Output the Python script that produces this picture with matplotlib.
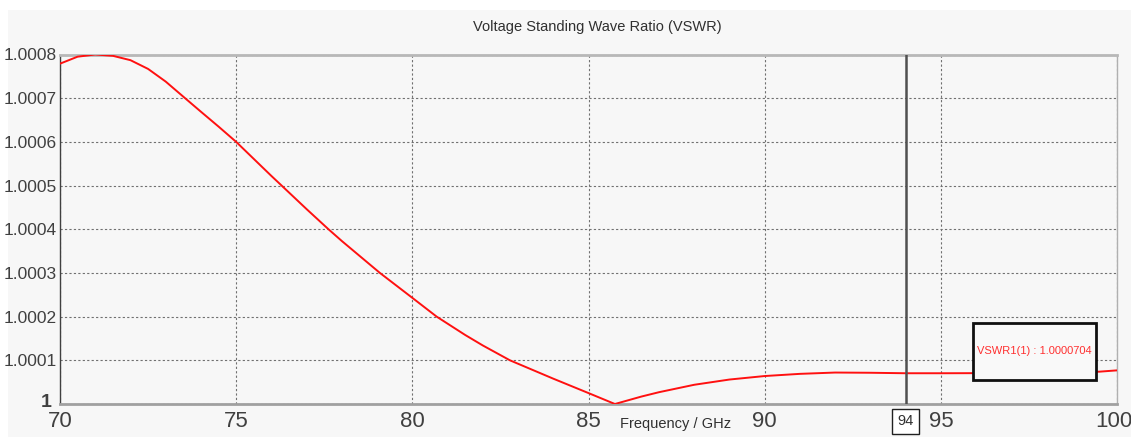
import matplotlib
matplotlib.use("Agg")
import matplotlib.pyplot as plt
from matplotlib import transforms
from matplotlib.patches import Rectangle

# frequency (GHz) and VSWR - 1
freq = [70, 70.5, 71, 71.5, 72, 72.5, 73, 73.55, 74, 74.5, 75, 76, 76.29, 77,
        77.62, 78, 79.08, 80, 80.69, 81.5, 82, 82.77, 84, 85, 85.75, 86.5, 87,
        88, 89, 90, 91, 92, 93, 94, 95, 96, 98, 99.5, 100]
vswr_off = [0.000779, 0.000795, 0.000800, 0.000797, 0.000787, 0.000767,
            0.000738, 0.000700, 0.000669, 0.000635, 0.000600, 0.000522,
            0.000500, 0.000446, 0.000400, 0.000373, 0.000300, 0.000243,
            0.000200, 0.000158, 0.000134, 0.000100, 0.000058, 0.000025, 0.0,
            0.000017, 0.000027, 0.000044, 0.000056, 0.000064, 0.000069,
            0.000072, 0.0000715, 0.0000704, 0.0000704, 0.0000706, 0.0000715,
            0.000074, 0.000077]
vswr = [1 + v for v in vswr_off]

x_ticks = [70, 75, 80, 85, 90, 95, 100]
y_ticks = [1.0, 1.0001, 1.0002, 1.0003, 1.0004, 1.0005, 1.0006, 1.0007, 1.0008]
y_labels = ["1", "1.0001", "1.0002", "1.0003", "1.0004", "1.0005", "1.0006",
            "1.0007", "1.0008"]
marker_f = 94
marker_val = "1.0000704"
title = "Voltage Standing Wave Ratio (VSWR)"
xlabel = "Frequency / GHz"

plt.rcParams["font.family"] = ["Liberation Sans", "DejaVu Sans"]

W, H = 1131, 437
fig = plt.figure(figsize=(W / 100, H / 100), dpi=100)
fig.patch.set_facecolor("white")
fig.patches.append(Rectangle((8 / W, 0), 1, (H - 10) / H, transform=fig.transFigure,
                             facecolor="#f7f7f7", edgecolor="none", zorder=-5))

ax = fig.add_axes([60 / W, (H - 404) / H, (1117 - 60) / W, (404 - 54.5) / H])
ax.set_facecolor("#f7f7f7")

ax.plot(freq, vswr, color="#ff1010", lw=1.4, zorder=3)

ax.set_xlim(70, 100)
ax.set_ylim(1.0, 1.0008)
ax.set_xticks(x_ticks)
ax.set_yticks(y_ticks)
ax.set_yticklabels(y_labels)
ax.tick_params(axis="both", length=0, colors="#404040")
ax.tick_params(axis="x", pad=5, labelsize=16)
ax.tick_params(axis="y", pad=2, labelsize=12.5)
one = ax.get_yticklabels()[0]
one.set_fontweight("bold")
one.set_fontsize(14)
one.set_verticalalignment("bottom")
one.set_transform(one.get_transform() + transforms.ScaledTranslation(-0.06, -0.07, fig.dpi_scale_trans))
last = ax.get_xticklabels()[-1]
last.set_transform(last.get_transform() + transforms.ScaledTranslation(-0.03, 0, fig.dpi_scale_trans))
ax.grid(True, linestyle=(0, (2, 2)), color="#707070", lw=0.8)

ax.spines["top"].set_color("#b8b8b8")
ax.spines["top"].set_linewidth(2)
ax.spines["bottom"].set_color("#a0a0a0")
ax.spines["bottom"].set_linewidth(2)
ax.spines["left"].set_color("#404040")
ax.spines["left"].set_linewidth(1)
ax.spines["right"].set_color("#b0b0b0")
ax.spines["right"].set_linewidth(1)

# marker line
ax.axvline(marker_f, color="#505050", lw=1.8, zorder=4)
ax.text(marker_f, -0.05, str(marker_f), transform=ax.get_xaxis_transform(),
        ha="center", va="center", fontsize=10.5, color="#303030",
        bbox=dict(boxstyle="square,pad=0.35", facecolor="white", edgecolor="#202020", lw=1))

# marker readout box
bx0, by0, bw, bh = (973 - 60) / 1057, (404 - 380) / 349.5, 123 / 1057, 57 / 349.5
ax.add_patch(Rectangle((bx0, by0), bw, bh, transform=ax.transAxes, facecolor="#f9f9f9",
                       edgecolor="#101010", lw=2, zorder=6))
ax.text(bx0 + bw / 2, by0 + bh / 2, "VSWR1(1) : " + marker_val, transform=ax.transAxes,
        ha="center", va="center", fontsize=8, color="#ff3030", zorder=7)

fig.text(597 / W, 1 - 27 / H, title, ha="center", va="center", fontsize=10.5, color="#303030")
fig.text(620 / W, 1 - 424 / H, xlabel, ha="left", va="center", fontsize=10.5, color="#303030")

fig.savefig("out.png", dpi=100)
